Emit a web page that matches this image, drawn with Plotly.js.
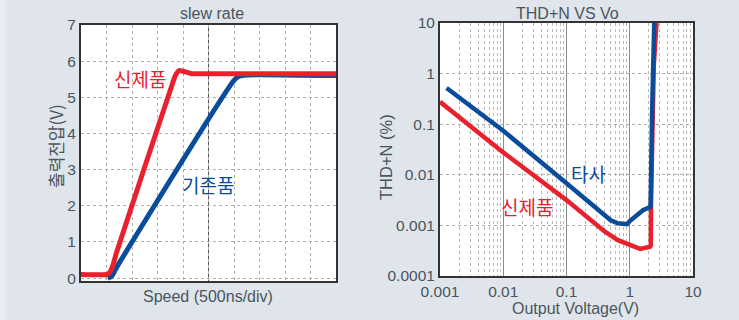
<!DOCTYPE html>
<html>
<head>
<meta charset="utf-8">
<script src="https://cdn.plot.ly/plotly-3.0.1.min.js"></script>
<style>
html,body{margin:0;padding:0;background:#dfe5ea;}
#chart{width:739px;height:320px;}
</style>
</head>
<body>
<div id="chart"></div>
<script>
// ---- Slew rate chart (x in divisions of 500 ns, y in V) ----
const slewNewX = [0, 1.0, 1.12, 1.25, 1.4, 3.55, 3.7, 3.85, 4.0, 4.3, 5, 10];
const slewNewY = [0.1, 0.1, 0.15, 0.35, 0.72, 5.3, 5.6, 5.74, 5.72, 5.66, 5.65, 5.65];
const slewOldX = [1.05, 1.2, 1.4, 6.0, 6.2, 6.5, 10];
const slewOldY = [0, 0.05, 0.3, 5.47, 5.58, 5.62, 5.6];

// ---- THD+N vs Vo chart ----
const thdNewX = [0.001, 0.01, 0.1, 0.4, 0.65, 1.0, 1.46, 2.09, 2.15, 2.17, 2.25, 2.4, 2.65];
const thdNewY = [0.277, 0.0277, 0.00316, 0.00076, 0.00051, 0.00041, 0.000343, 0.00038, 0.0004, 0.003, 0.1, 1.5, 10];
const thdOtherX = [0.00127, 0.01, 0.1, 0.5, 0.65, 0.75, 0.91, 1.0, 1.62, 2.1, 2.14, 2.25, 2.44];
const thdOtherY = [0.52, 0.074, 0.0068, 0.00126, 0.0011, 0.00106, 0.00106, 0.00122, 0.002, 0.0023, 0.0024, 0.15, 10];

const slewTicks = [0, 1, 2, 3, 4, 5, 6, 7];
const thdYTicks = [0.0001, 0.001, 0.01, 0.1, 1, 10];
const thdYLabels = ['0.0001', '0.001', '0.01', '0.1', '1', '10'];
const thdXTicks = [0.001, 0.01, 0.1, 1, 10];
const thdXLabels = ['0.001', '0.01', '0.1', '1', '10'];
const slewCenterDiv = 5;

const RED = '#e8212d';
const BLUE = '#0a4c9c';
const TXT = '#4a5560';
const FONT = 'Liberation Sans, Arial, sans-serif';
const KFONT = 'Noto Sans CJK KR, sans-serif';

const W = 739, H = 320;
const px = v => v / W;
const py = v => 1 - v / H;

const traces = [
  {x: slewOldX, y: slewOldY, xaxis: 'x', yaxis: 'y', mode: 'lines',
   line: {color: BLUE, width: 5, shape: 'spline', smoothing: 0.6}, hoverinfo: 'skip'},
  {x: slewNewX, y: slewNewY, xaxis: 'x', yaxis: 'y', mode: 'lines',
   line: {color: RED, width: 5, shape: 'spline', smoothing: 0.6}, hoverinfo: 'skip'},
  {x: thdNewX, y: thdNewY, xaxis: 'x2', yaxis: 'y2', mode: 'lines',
   line: {color: RED, width: 4.5}, hoverinfo: 'skip'},
  {x: thdOtherX, y: thdOtherY, xaxis: 'x2', yaxis: 'y2', mode: 'lines',
   line: {color: BLUE, width: 4.5}, hoverinfo: 'skip'}
];

const frame = {showline: true, mirror: true, linecolor: '#333', linewidth: 2, ticks: '', zeroline: false};

function label(text, x, y, opts) {
  return Object.assign({text: text, xref: 'paper', yref: 'paper', x: px(x), y: py(y),
    xanchor: 'center', yanchor: 'middle', showarrow: false,
    font: {size: 16, color: TXT}}, opts || {});
}

const layout = {
  width: W, height: H,
  margin: {l: 0, r: 0, t: 0, b: 0},
  paper_bgcolor: '#dfe5ea',
  plot_bgcolor: '#ffffff',
  showlegend: false,
  font: {family: FONT, size: 15, color: TXT},
  xaxis: Object.assign({}, frame, {
    domain: [px(81), px(336)], anchor: 'y', range: [0, 10], dtick: 1,
    showticklabels: false, showgrid: true, gridcolor: '#b0b0b0', griddash: 'dot', gridwidth: 1
  }),
  yaxis: Object.assign({}, frame, {
    domain: [py(281), py(25)], anchor: 'x', range: [-0.08, 7], tickvals: slewTicks,
    showgrid: true, gridcolor: '#b0b0b0', griddash: 'dot', gridwidth: 1,
    tickfont: {size: 15.5, color: TXT}
  }),
  xaxis2: Object.assign({}, frame, {
    domain: [px(440), px(693)], anchor: 'y2', type: 'log', range: [-3, 1],
    tickvals: thdXTicks, ticktext: thdXLabels,
    showgrid: true, gridcolor: '#8c8c8c', gridwidth: 1,
    minor: {dtick: 'D1', showgrid: true, gridcolor: '#b8b8b8', griddash: 'dot', gridwidth: 1, ticks: ''},
    tickfont: {size: 15.5, color: TXT}
  }),
  yaxis2: Object.assign({}, frame, {
    domain: [py(276), py(23)], anchor: 'x2', type: 'log', range: [-4, 1],
    tickvals: thdYTicks, ticktext: thdYLabels,
    showgrid: true, gridcolor: '#b0b0b0', griddash: 'dot', gridwidth: 1,
    tickfont: {size: 15.5, color: TXT}
  }),
  shapes: [
    {type: 'rect', xref: 'paper', yref: 'paper', x0: 0, x1: px(6), y0: 0, y1: 1,
     fillcolor: '#e9edf0', line: {width: 0}, layer: 'below'},
    {type: 'line', xref: 'x', yref: 'y domain', x0: slewCenterDiv, x1: slewCenterDiv, y0: 0, y1: 1,
     line: {color: '#555', width: 1}, layer: 'below'}
  ],
  annotations: [
    label('slew rate', 212, 13),
    label('THD+N VS Vo', 567, 13),
    label('Speed (500ns/div)', 208, 296, {font: {size: 16, color: TXT}}),
    label('출력전압(V)', 55, 146, {textangle: -90, font: {family: KFONT, size: 17, color: TXT}}),
    label('Output Voltage(V)', 575, 308, {font: {size: 16, color: TXT}}),
    label('THD+N (%)', 386, 157, {textangle: -90, font: {size: 16.5, color: TXT}}),
    label('신제품', 140, 79, {font: {family: KFONT, size: 19, color: RED}}),
    label('기존품', 208, 184, {font: {family: KFONT, size: 19, color: BLUE}}),
    label('타사', 588, 173, {font: {family: KFONT, size: 19, color: BLUE}}),
    label('신제품', 527, 206, {font: {family: KFONT, size: 19, color: RED}})
  ]
};

Plotly.newPlot('chart', traces, layout, {staticPlot: true, displayModeBar: false});
</script>
</body>
</html>
